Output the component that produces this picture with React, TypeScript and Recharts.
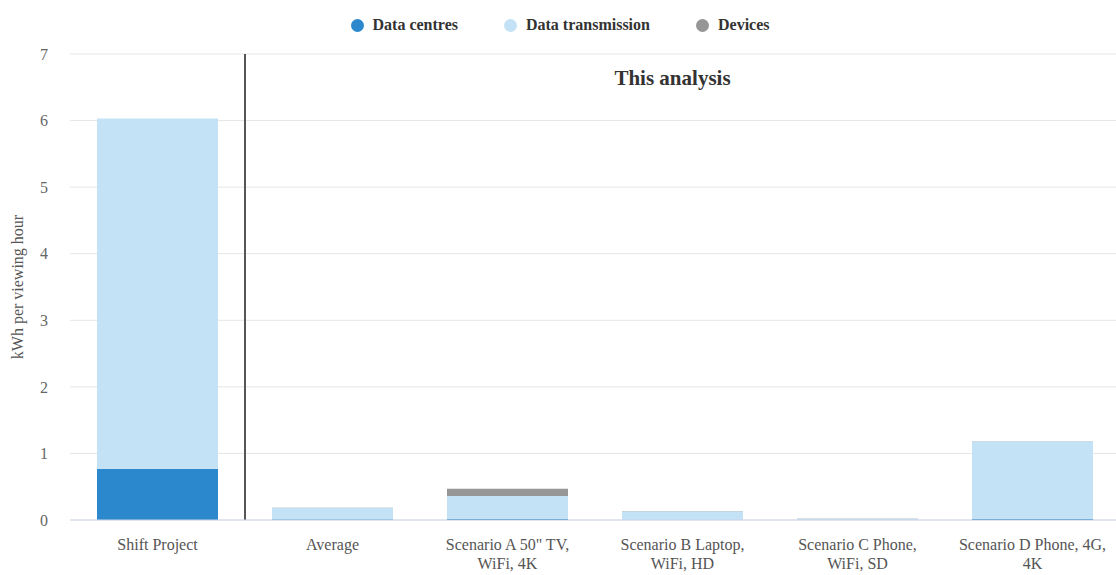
import React from 'react';
import {
    BarChart,
    Bar,
    XAxis,
    YAxis,
    CartesianGrid,
    Legend,
    ReferenceLine,
    ReferenceArea,
    Label,
} from 'recharts';

// tick labels, one entry per line
const categoryLines = [
    ['Shift Project'],
    ['Average'],
    ['Scenario A 50" TV,', 'WiFi, 4K'],
    ['Scenario B Laptop,', 'WiFi, HD'],
    ['Scenario C Phone,', 'WiFi, SD'],
    ['Scenario D Phone, 4G,', '4K'],
];
const categories = categoryLines.map((l) => l.join(' '));

const dataCentres = [0.77, 0.01, 0.02, 0.005, 0.005, 0.02];
const dataTransmission = [5.26, 0.17, 0.34, 0.125, 0.015, 1.16];
const devices = [0, 0.005, 0.11, 0.005, 0.002, 0.003];

const yTicks = [0, 1, 2, 3, 4, 5, 6, 7];

const series = [
    { key: 'dataCentres', name: 'Data centres', color: '#2b88cc' },
    { key: 'dataTransmission', name: 'Data transmission', color: '#c4e2f5' },
    { key: 'devices', name: 'Devices', color: '#969696' },
];

const data = categories.map((c, i) => ({
    category: c,
    dataCentres: dataCentres[i],
    dataTransmission: dataTransmission[i],
    devices: devices[i],
}));

const FONT = '"Liberation Serif", "Times New Roman", serif';

const XTick = (props: any) => {
    const { x, y, payload } = props;
    const lines = categoryLines[payload.index] || [payload.value];
    return (
        <text x={x} y={y} textAnchor="middle" fontFamily={FONT} fontSize={16} fill="#555">
            {lines.map((l, i) => (
                <tspan key={i} x={x} dy={i === 0 ? 22 : 19}>
                    {l}
                </tspan>
            ))}
        </text>
    );
};

const LegendContent = () => (
    <div
        style={{
            display: 'flex',
            justifyContent: 'center',
            gap: 46,
            fontFamily: FONT,
            fontWeight: 'bold',
            fontSize: 16,
            color: '#333',
        }}
    >
        {series.map((s) => (
            <div key={s.key} style={{ display: 'flex', alignItems: 'center', gap: 9 }}>
                <span
                    style={{
                        width: 13,
                        height: 13,
                        borderRadius: '50%',
                        background: s.color,
                        display: 'inline-block',
                    }}
                />
                <span>{s.name}</span>
            </div>
        ))}
    </div>
);

const App = () => {
    return (
        <div style={{ position: 'absolute', left: 0, top: 0, width: 1116, height: 575, overflow: 'hidden' }}>
            <BarChart
                width={1120}
                height={575}
                data={data}
                margin={{ top: 36, right: 0, left: 0, bottom: 0 }}
            >
                <CartesianGrid vertical={false} stroke="#e6e6e6" />
                <XAxis
                    dataKey="category"
                    height={55}
                    tick={<XTick />}
                    tickLine={false}
                    axisLine={{ stroke: '#ccd6eb' }}
                    interval={0}
                />
                <YAxis
                    width={70}
                    domain={[0, 7]}
                    ticks={yTicks}
                    tickLine={false}
                    axisLine={false}
                    tickSize={0}
                    tickMargin={22}
                    tick={{ fontFamily: FONT, fontSize: 16, fill: '#666' }}
                >
                    <Label
                        value="kWh per viewing hour"
                        angle={-90}
                        position="insideLeft"
                        offset={17}
                        style={{ textAnchor: 'middle', fontFamily: FONT, fontSize: 16, fill: '#555' }}
                    />
                </YAxis>
                <Legend verticalAlign="top" wrapperStyle={{ top: 16 }} content={<LegendContent />} />
                <ReferenceArea
                    x1={categories[1]}
                    x2={categories[categories.length - 1]}
                    fillOpacity={0}
                    strokeOpacity={0}
                >
                    <Label
                        value="This analysis"
                        position="insideTop"
                        offset={16}
                        dx={-10}
                        style={{ fontFamily: FONT, fontSize: 21, fontWeight: 'bold', fill: '#333' }}
                    />
                </ReferenceArea>
                {series.map((s) => (
                    <Bar
                        key={s.key}
                        dataKey={s.key}
                        name={s.name}
                        stackId="a"
                        fill={s.color}
                        barSize={121}
                        isAnimationActive={false}
                    />
                ))}
                <ReferenceLine x={categories[0]} position="end" stroke="#555" strokeWidth={2} />
            </BarChart>
        </div>
    );
};

export default App;
